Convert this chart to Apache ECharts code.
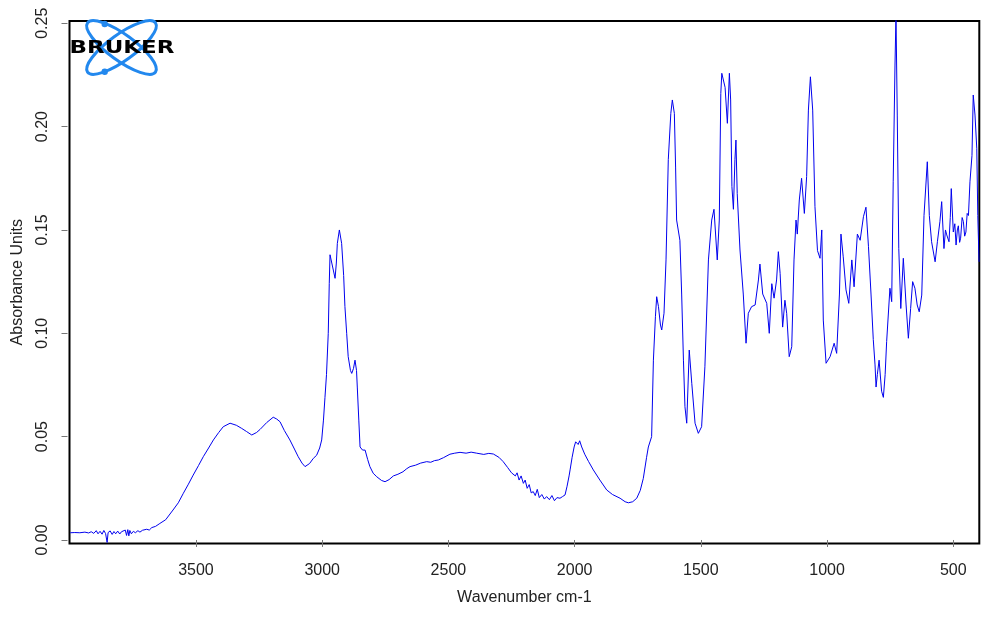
<!DOCTYPE html>
<html>
<head>
<meta charset="utf-8">
<script src="https://cdn.jsdelivr.net/npm/echarts@6/dist/echarts.min.js"></script>
<style>html,body{margin:0;padding:0;background:#fff}#c{width:985px;height:618px}</style>
</head>
<body>
<div id="c"></div>
<script>
// Wavenumbers (cm-1) and absorbance values
const wavenumbers = [
3998,3980,3960,3940,3925,3915,3905,3895,3888,3880,3872,3865,3858,3852,3848,3840,3832,3825,3818,3810,
3802,3795,3788,3780,3775,3770,3766,3762,3756,3748,3740,3730,3722,3712,3705,3695,3685,3675,3660,3643,
3620,3591,3570,3550,3530,3511,3490,3471,3450,3431,3410,3392,3365,3340,3319,3300,3279,3260,3246,3220,
3194,3180,3167,3150,3128,3110,3095,3080,3068,3050,3035,3022,3010,3002,2995,2989,2983,2976,2972,2969,
2962,2956,2949,2944,2940,2932,2923,2915,2910,2903,2897,2888,2883,2876,2870,2864,2861,2855,2850,2840,
2830,2820,2811,2798,2784,2765,2751,2735,2718,2700,2680,2665,2652,2630,2610,2586,2570,2555,2540,2520,
2494,2475,2454,2430,2410,2388,2360,2340,2322,2300,2283,2265,2250,2243,2235,2228,2220,2212,2203,2196,
2188,2180,2172,2164,2156,2148,2140,2130,2120,2111,2100,2090,2080,2070,2058,2048,2038,2030,2022,2018,
2010,2002,1996,1992,1986,1980,1972,1960,1945,1926,1900,1873,1850,1820,1800,1787,1770,1754,1740,1728,
1715,1708,1695,1688,1680,1675,1668,1660,1655,1646,1638,1629,1619,1613,1605,1600,1596,1583,1576,1569,
1563,1556,1546,1536,1523,1510,1497,1484,1470,1457,1448,1435,1427,1421,1417,1404,1395,1387,1382,1377,
1371,1365,1361,1356,1345,1332,1321,1312,1299,1285,1272,1266,1255,1239,1229,1219,1210,1200,1193,1186,
1176,1167,1160,1150,1140,1131,1123,1118,1110,1101,1090,1081,1074,1066,1057,1048,1038,1028,1021,1015,
1004,988,972,962,951,945,936,925,914,902,893,880,869,856,846,836,826,817,810,806,
801,794,784,777,770,764,751,744,738,731,727,722,716,708,698,687,678,669,661,652,
643,635,625,616,603,595,586,572,563,553,546,537,531,526,517,512,508,500,494,489,
484,480,475,471,465,460,455,450,445,440,434,426,421,414,407,403,398
];
const absorbance = [
0.0035,0.0036,0.0035,0.0038,0.0034,0.0040,0.0032,0.0045,0.0030,0.0042,0.0028,0.0046,0.0031,-0.0012,0.0036,0.0044,0.0027,0.0041,0.0030,0.0043,
0.0029,0.0040,0.0033,0.0048,0.0022,0.0050,0.0020,0.0046,0.0030,0.0042,0.0035,0.0045,0.0038,0.0047,0.0040,0.0052,0.0048,0.0060,0.0066,0.0080,
0.0098,0.0145,0.0180,0.0226,0.0270,0.0314,0.0360,0.0403,0.0445,0.0484,0.0520,0.0548,0.0565,0.0555,0.0540,0.0525,0.0508,0.0520,0.0535,0.0568,
0.0594,0.0585,0.0572,0.0530,0.0484,0.0440,0.0403,0.0372,0.0355,0.0370,0.0395,0.0410,0.0445,0.0484,0.0580,0.0690,0.0800,0.1000,0.1240,0.1380,
0.1340,0.1306,0.1266,0.1340,0.1435,0.1500,0.1435,0.1280,0.1130,0.1000,0.0887,0.0820,0.0806,0.0830,0.0870,0.0820,0.0740,0.0580,0.0450,0.0435,
0.0435,0.0390,0.0355,0.0323,0.0306,0.0288,0.0282,0.0292,0.0310,0.0318,0.0330,0.0345,0.0355,0.0362,0.0372,0.0379,0.0376,0.0384,0.0387,0.0398,
0.0415,0.0420,0.0424,0.0420,0.0425,0.0420,0.0414,0.0419,0.0416,0.0400,0.0379,0.0350,0.0325,0.0323,0.0310,0.0325,0.0290,0.0310,0.0274,0.0290,
0.0250,0.0268,0.0228,0.0234,0.0215,0.0245,0.0205,0.0220,0.0198,0.0210,0.0195,0.0215,0.0190,0.0205,0.0202,0.0210,0.0218,0.0260,0.0310,0.0339,
0.0400,0.0450,0.0475,0.0484,0.0462,0.0480,0.0450,0.0415,0.0380,0.0339,0.0290,0.0242,0.0220,0.0202,0.0185,0.0180,0.0185,0.0202,0.0240,0.0298,
0.0400,0.0450,0.0500,0.0870,0.1080,0.1177,0.1130,0.1040,0.1016,0.1097,0.1355,0.1840,0.2064,0.2129,0.2064,0.1800,0.1548,0.1450,0.1190,0.0870,
0.0645,0.0565,0.0919,0.0758,0.0565,0.0516,0.0548,0.0838,0.1355,0.1548,0.1600,0.1355,0.1548,0.2160,0.2258,0.2190,0.2016,0.2258,0.2129,0.1710,
0.1600,0.1840,0.1935,0.1677,0.1403,0.1190,0.0952,0.1097,0.1129,0.1137,0.1258,0.1335,0.1190,0.1145,0.1000,0.1240,0.1170,0.1258,0.1395,0.1290,
0.1030,0.1160,0.1097,0.0887,0.0935,0.1355,0.1548,0.1480,0.1645,0.1750,0.1580,0.1758,0.2080,0.2241,0.2080,0.1613,0.1400,0.1363,0.1500,0.1064,
0.0855,0.0887,0.0952,0.0903,0.1190,0.1480,0.1370,0.1210,0.1145,0.1355,0.1225,0.1480,0.1450,0.1564,0.1610,0.1419,0.1190,0.0970,0.0847,0.0740,
0.0800,0.0870,0.0720,0.0690,0.0800,0.0960,0.1218,0.1153,0.1733,0.2298,0.2540,0.2056,0.1410,0.1120,0.1363,0.1137,0.0976,0.1120,0.1250,0.1218,
0.1137,0.1104,0.1185,0.1570,0.1830,0.1570,0.1443,0.1346,0.1443,0.1540,0.1637,0.1410,0.1500,0.1476,0.1443,0.1560,0.1700,0.1490,0.1530,0.1427,
0.1500,0.1520,0.1440,0.1460,0.1560,0.1540,0.1470,0.1490,0.1580,0.1570,0.1733,0.1860,0.2153,0.2056,0.1895,0.1570,0.1346
];
const xTicks = [500, 1000, 1500, 2000, 2500, 3000, 3500];
const yTicks = [0, 0.05, 0.10, 0.15, 0.20, 0.25];

const chart = echarts.init(document.getElementById('c'), null, {renderer: 'canvas'});
const font = 'Liberation Sans, Arial, sans-serif';
chart.setOption({
  animation: false,
  backgroundColor: '#fff',
  grid: {left: 69.5, top: 21, right: 5.7, bottom: 74.5, show: true, borderColor: '#000', borderWidth: 2, backgroundColor: 'transparent'},
  xAxis: {
    type: 'value', inverse: true, min: 397, max: 4001, offset: 2,
    axisLine: {show: false}, splitLine: {show: false},
    axisTick: {show: true, length: 7, lineStyle: {color: '#777', width: 1}, customValues: xTicks},
    axisLabel: {customValues: xTicks, fontSize: 16, fontFamily: font, color: '#222', margin: 17,
      formatter: v => String(Math.round(v))},
    name: 'Wavenumber cm-1', nameLocation: 'middle', nameGap: 44,
    nameTextStyle: {fontSize: 16, fontFamily: font, color: '#222'}
  },
  yAxis: {
    type: 'value', min: -0.0017, max: 0.2511, offset: 2,
    axisLine: {show: false}, splitLine: {show: false},
    axisTick: {show: true, length: 6, lineStyle: {color: '#777', width: 1}, customValues: yTicks},
    axisLabel: {customValues: yTicks, rotate: 90, fontSize: 16, fontFamily: font, color: '#222', margin: 17,
      formatter: v => v.toFixed(2)},
    name: 'Absorbance Units', nameLocation: 'middle', nameGap: 42, nameRotate: 90,
    nameTextStyle: {fontSize: 16, fontFamily: font, color: '#222'}
  },
  series: [{
    type: 'line', showSymbol: false, clip: true,
    data: wavenumbers.map((w, i) => [w, absorbance[i]]),
    lineStyle: {color: '#0000ee', width: 1},
    itemStyle: {color: '#0000ee'}
  }],
  graphic: [
    {type: 'ellipse', shape: {cx: 0, cy: 0, rx: 42, ry: 13}, x: 121.5, y: 47.5, rotation: 36 * Math.PI / 180,
      style: {fill: 'none', stroke: '#2288ee', lineWidth: 3}, z: 10},
    {type: 'ellipse', shape: {cx: 0, cy: 0, rx: 42, ry: 13}, x: 121.5, y: 47.5, rotation: -36 * Math.PI / 180,
      style: {fill: 'none', stroke: '#2288ee', lineWidth: 3}, z: 10},
    {type: 'circle', shape: {cx: 104.7, cy: 24, r: 3.2}, style: {fill: '#2288ee'}, z: 11},
    {type: 'circle', shape: {cx: 104.7, cy: 71.7, r: 3.2}, style: {fill: '#2288ee'}, z: 11},
    {type: 'text', x: 122, y: 49, scaleX: 1.35, z: 12,
      style: {text: 'BRUKER', font: '900 17px "DejaVu Sans", sans-serif', fill: '#000', align: 'center', verticalAlign: 'middle'}}
  ]
});
</script>
</body>
</html>
